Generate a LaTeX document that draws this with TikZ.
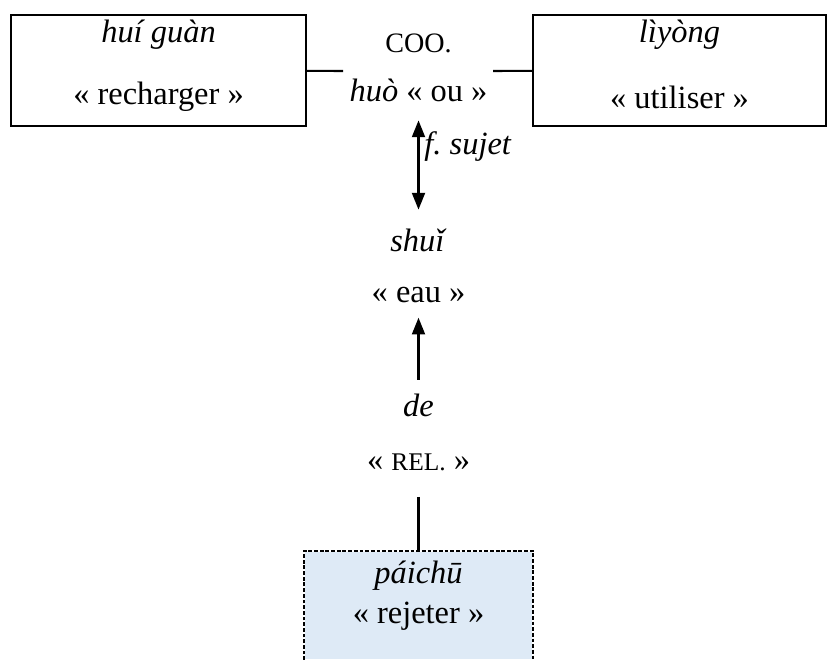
\documentclass[tikz,border=0pt]{standalone}
\usepackage{fontspec}
\setmainfont{Liberation Serif}
\usetikzlibrary{arrows.meta}
\definecolor{boxblue}{HTML}{DEEAF6}
\newcommand{\fakesc}[2][9.4]{{\fontsize{#1}{11}\selectfont #2}}

\begin{document}
\begin{tikzpicture}[x=0.37pt,y=-0.37pt,font=\fontsize{12}{14}\selectfont,line width=0.75pt,
  lexbox/.style={draw,inner sep=0pt,minimum height=41.1pt},
  tip/.style={-{Triangle[width=4.8pt,length=6.2pt]}},
  tips/.style={{Triangle[width=4.8pt,length=6.2pt]}-{Triangle[width=4.8pt,length=6.2pt]}}]
\useasboundingbox (0,0) rectangle (828,659);
% boxes
\node[lexbox,minimum width=109.2pt] (recharger) at (158.5,70.5) {};
\node[lexbox,minimum width=108.4pt] (utiliser) at (679.5,70.5) {};
\node[fill=boxblue,inner sep=0pt,minimum width=84pt,minimum height=39.6pt] (rejeter) at (418.5,605.5) {};
\draw[dash pattern=on 1.4pt off 0.7pt] (rejeter.south west) -- (rejeter.north west) -- (rejeter.north east) -- (rejeter.south east);
% texts
\node (huiguan) at (158.5,35) {\textit{huí guàn}};
\node (rechargerfr) at (158.5,97) {« recharger »};
\node (liyong) at (679.5,35) {\textit{lìyòng}};
\node (utiliserfr) at (679.5,97) {« utiliser »};
\node (coo) at (418.5,43) {\fakesc[10.4]{COO.}};
\node (huo) at (418.5,90) {\textit{huò} « ou »};
\node (shui) at (418.5,240) {\textit{shuǐ}};
\node (eau) at (418.5,295) {« eau »};
\node (de) at (418.5,405) {\textit{de}};
\node (rel) at (418.5,462) {« \fakesc{REL.} »};
\node (paichu) at (418.5,576) {\textit{páichū}};
\node (rejeterfr) at (418.5,616) {« rejeter »};
% connectors
\coordinate (cooL) at (343,71);
\coordinate (cooR) at (493,71);
\draw (recharger) -- (cooL);
\draw (cooR) -- (utiliser);
\draw[tips,shorten <=3.3pt,shorten >=3.3pt] (huo) -- node[pos=0.33,right=-1.5pt,font=\fontsize{12}{14}\selectfont\itshape] (fsujet) {f.\ sujet} (shui);
\draw[tip,shorten <=1.5pt,shorten >=1.8pt] (de) -- (eau);
\draw[shorten <=6pt] (rel) -- (rejeter);
\end{tikzpicture}
\end{document}
